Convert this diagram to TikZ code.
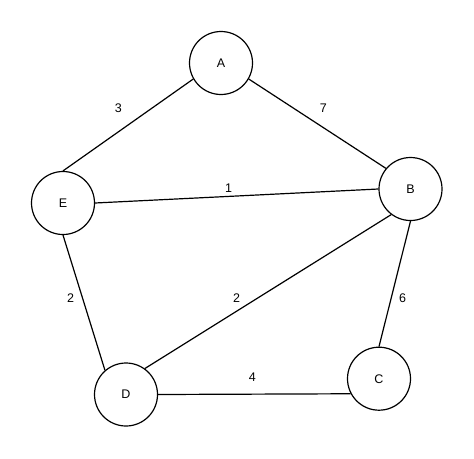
\documentclass[tikz,border=0pt]{standalone}
\usepackage{fontspec}
\setmainfont{Liberation Sans}
\begin{document}
\begin{tikzpicture}[x=1pt,y=-1pt,
  vertex/.style={circle,draw,line width=1.2pt,minimum size=63pt,inner sep=0pt,font=\fontsize{12.5}{14}\selectfont},
  edge/.style={line width=1.2pt},
  wlabel/.style={font=\fontsize{12.5}{14}\selectfont,inner sep=0pt}]
\useasboundingbox (0,0) rectangle (474,458);
\node[vertex] (A) at (221,63) {A};
\node[vertex] (B) at (410.5,189) {B};
\node[vertex] (C) at (379,378.7) {C};
\node[vertex] (D) at (126,394.5) {D};
\node[vertex] (E) at (63,203) {E};
\draw[edge] (E.north) -- (A.210);
\draw[edge] (A.330) -- (B.140);
\draw[edge] (E.east) -- (B.west);
\draw[edge] (E.south) -- (D.131);
\draw[edge] (D.54) -- (B.-127);
\draw[edge] (B.south) -- (C.north);
\draw[edge] (D.east) -- (C.208);
\node[wlabel] (l3) at (118.3,108.3) {3};
\node[wlabel] (l7) at (323.3,108.3) {7};
\node[wlabel] (l1) at (228.7,187.7) {1};
\node[wlabel] (l2a) at (70.7,298) {2};
\node[wlabel] (l2b) at (236.7,298) {2};
\node[wlabel] (l6) at (402.7,298) {6};
\node[wlabel] (l4) at (252.3,377.3) {4};
\end{tikzpicture}
\end{document}
